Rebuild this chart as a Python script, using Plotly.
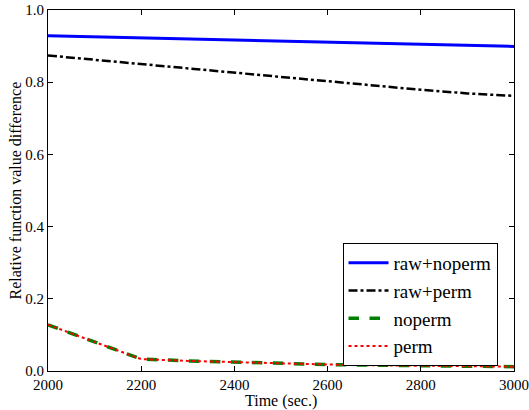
import plotly.graph_objects as go

time = [2000, 2100, 2200, 2300, 2400, 2500, 2600, 2700, 2800, 2900, 3000]
raw_noperm = [0.929, 0.926, 0.923, 0.920, 0.917, 0.914, 0.911, 0.908, 0.905, 0.902, 0.899]
raw_perm = [0.874, 0.862, 0.850, 0.838, 0.826, 0.814, 0.802, 0.790, 0.779, 0.769, 0.762]
noperm = [0.128, 0.080, 0.033, 0.028, 0.024, 0.021, 0.018, 0.016, 0.014, 0.013, 0.012]
perm = [0.128, 0.080, 0.033, 0.028, 0.024, 0.021, 0.018, 0.016, 0.014, 0.013, 0.012]

SERIF = "Liberation Serif"

fig = go.Figure()
fig.add_trace(go.Scatter(x=time, y=raw_noperm, mode="lines", name="raw+noperm",
                         line=dict(color="#0000ff", width=3, dash="solid")))
fig.add_trace(go.Scatter(x=time, y=raw_perm, mode="lines", name="raw+perm",
                         line=dict(color="black", width=2.5, dash="dashdot")))
fig.add_trace(go.Scatter(x=time, y=noperm, mode="lines", name="noperm",
                         line=dict(color="#008000", width=3.5, dash="dash")))
fig.add_trace(go.Scatter(x=time, y=perm, mode="lines", name="perm",
                         line=dict(color="#ff0000", width=2, dash="dot")))

axis_common = dict(showline=True, linecolor="black", linewidth=1, mirror="ticks",
                   ticks="inside", ticklen=5, tickcolor="black", showgrid=False,
                   zeroline=False, automargin=False, ticklabeloverflow="allow",
                   tickfont=dict(family=SERIF, size=15, color="black"))
fig.update_xaxes(range=[2000, 3000], tickvals=[2000, 2200, 2400, 2600, 2800, 3000],
                 **axis_common)
fig.update_yaxes(range=[0, 1], tickvals=[0, 0.2, 0.4, 0.6, 0.8, 1.0], tickformat=".1f",
                 **axis_common)
fig.add_annotation(text="Time (sec.)", xref="paper", yref="paper", x=0.5, y=-0.083,
                   xanchor="center", yanchor="middle", showarrow=False,
                   font=dict(family=SERIF, size=16, color="black"))
fig.add_annotation(text="Relative function value difference", xref="paper", yref="paper",
                   x=-0.0708, y=0.5, xanchor="center", yanchor="middle", textangle=-90,
                   showarrow=False, font=dict(family=SERIF, size=16, color="black"))
fig.update_layout(
    width=529, height=410,
    margin=dict(l=48, r=15, t=10, b=39, autoexpand=False),
    paper_bgcolor="white", plot_bgcolor="white",
    font=dict(family=SERIF, size=15, color="black"),
    legend=dict(x=0.632, y=0.014, xanchor="left", yanchor="bottom",
                bordercolor="black", borderwidth=1, bgcolor="white",
                font=dict(family=SERIF, size=19), itemwidth=40),
    showlegend=True,
)
fig.write_html("out.html", config={"displayModeBar": False},
               post_script="document.body.style.margin='0';document.body.style.overflow='hidden';")
